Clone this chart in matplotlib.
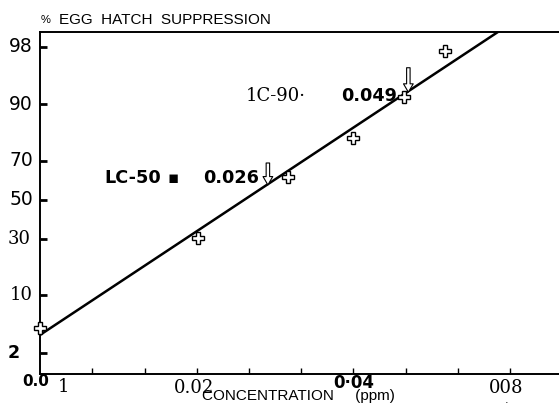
import numpy as np
import matplotlib
matplotlib.use('Agg')
import matplotlib.pyplot as plt
from statistics import NormalDist

conc = [0.01, 0.0201, 0.0299, 0.040, 0.0501, 0.060]       # ppm
hatch = [4.3, 30.5, 62.1, 79.7, 91.7, 97.7]              # % egg hatch suppression

# fitted probit line (end points)
fit_conc = [0.01, 0.0759]
fit_pct = [3.5, 98.8]

# LC values and where their arrows sit
lc50, lc90 = 0.026, 0.049
arrow50_x, arrow50_y = 0.0274, [69.0, 58.0]
arrow90_x, arrow90_y = 0.051, [96.2, 92.6]

ytick_vals = [2, 10, 30, 50, 70, 90, 98]
ytick_labels = ['2', '10', '30', '50', '70', '90', '98']
xtick_vals = [0.0126, 0.0159, 0.02, 0.0252, 0.0317, 0.04, 0.0504, 0.0635, 0.08]

nd = NormalDist()
_ppf = np.vectorize(lambda p: nd.inv_cdf(min(max(p / 100.0, 1e-9), 1 - 1e-9)),
                    otypes=[float])
_cdf = np.vectorize(lambda z: nd.cdf(z) * 100.0, otypes=[float])


def forward(p):
    return _ppf(np.asarray(p, dtype=float))


def inverse(z):
    return _cdf(np.asarray(z, dtype=float))


W, H = 559, 405
fig = plt.figure(figsize=(W / 100, H / 100), dpi=100)
ax = fig.add_axes([40 / W, 1 - 374 / H, 519 / W, 342 / H])


def fx(px):
    return px / W


def fy(py):
    return 1 - py / H


ax.set_xscale('log')
ax.set_yscale('function', functions=(forward, inverse))
ax.set_xlim(0.01, 0.0993)
ax.set_ylim(0.975, 98.79)

ax.plot(fit_conc, fit_pct, color='black', lw=1.8, solid_capstyle='butt')
ax.plot(conc, hatch, linestyle='none', marker='P', ms=9, mfc='white',
        mec='black', mew=1.0, zorder=3, clip_on=False)

# spines
ax.spines['right'].set_visible(False)
for s in ['left', 'top', 'bottom']:
    ax.spines[s].set_linewidth(1.4)

# y ticks (probit)
ax.set_yticks(ytick_vals)
ax.yaxis.set_minor_locator(matplotlib.ticker.NullLocator())
ax.tick_params(axis='y', direction='in', length=5, width=2, labelleft=False)
ylab_style = {
    '2': dict(family='DejaVu Sans', weight='bold', size=12.5, x=20),
    '10': dict(family='DejaVu Serif', weight='normal', size=13, x=33),
    '30': dict(family='DejaVu Serif', weight='normal', size=13, x=31),
    '50': dict(family='DejaVu Sans', weight='normal', size=13.5, x=33),
    '70': dict(family='DejaVu Sans', weight='normal', size=13.5, x=33),
    '90': dict(family='DejaVu Sans', weight='normal', size=13.5, x=33),
    '98': dict(family='DejaVu Sans', weight='normal', size=13.5, x=33),
}
ytr = ax.get_yaxis_transform()
for v, lab in zip(ytick_vals, ytick_labels):
    st = ylab_style[lab]
    ax.text((st['x'] - 40) / 519, v, lab, transform=ytr, ha='right', va='center',
            family=st['family'], weight=st['weight'], fontsize=st['size'],
            clip_on=False)

# x ticks (log)
ax.set_xticks(xtick_vals)
ax.xaxis.set_minor_locator(matplotlib.ticker.NullLocator())
ax.set_xticklabels([])
ax.tick_params(axis='x', direction='in', length=4, width=1)

xtr = ax.get_xaxis_transform()
ax.text(0.0098, -0.021, '0.0', transform=xtr, ha='center', va='center',
        family='DejaVu Sans', weight='bold', fontsize=11)
fig.text(fx(63), fy(387), '1', ha='center', va='center',
         family='DejaVu Serif', fontsize=13)
ax.text(0.0198, -0.041, '0.02', transform=xtr, ha='center', va='center',
        family='DejaVu Serif', fontsize=13)
ax.text(0.04, -0.026, '0·04', transform=xtr, ha='center', va='center',
        family='DejaVu Sans', weight='bold', fontsize=12)
ax.text(0.0785, -0.041, '008', transform=xtr, ha='center', va='center',
        family='DejaVu Serif', fontsize=13)
fig.text(fx(507), fy(400), '.', ha='center', va='center', fontsize=8)

# axis titles
fig.text(fx(41), fy(20), '%', ha='left', va='center',
         family='Liberation Sans', fontsize=8)
fig.text(fx(59), fy(20), 'EGG  HATCH  SUPPRESSION', ha='left', va='center',
         family='Liberation Sans', fontsize=11)
fig.text(fx(202), fy(396), 'CONCENTRATION     (ppm)', ha='left', va='center',
         family='Liberation Sans', fontsize=11)

# LC annotations
fig.text(fx(104), fy(178), 'LC-50', ha='left', va='center',
         family='DejaVu Sans', weight='bold', fontsize=12.7)
fig.text(fx(173), fy(178), '▪', ha='center', va='center',
         family='DejaVu Sans', weight='bold', fontsize=12)
fig.text(fx(203), fy(178), f'{lc50:.3f}', ha='left', va='center',
         family='DejaVu Sans', weight='bold', fontsize=12.7)
fig.text(fx(246), fy(96), '1C-90·', ha='left', va='center',
         family='DejaVu Serif', fontsize=13)
fig.text(fx(341), fy(96), f'{lc90:.3f}', ha='left', va='center',
         family='DejaVu Sans', weight='bold', fontsize=12.7)

arrow_props = dict(arrowstyle='simple,head_length=0.6,head_width=0.7,tail_width=0.25',
                   fc='white', ec='black', lw=0.8, shrinkA=0, shrinkB=0)
ax.annotate('', xy=(arrow50_x, arrow50_y[1]), xytext=(arrow50_x, arrow50_y[0]),
            arrowprops=arrow_props, annotation_clip=False)
ax.annotate('', xy=(arrow90_x, arrow90_y[1]), xytext=(arrow90_x, arrow90_y[0]),
            arrowprops=arrow_props, annotation_clip=False)

fig.savefig('out.png', dpi=100)
